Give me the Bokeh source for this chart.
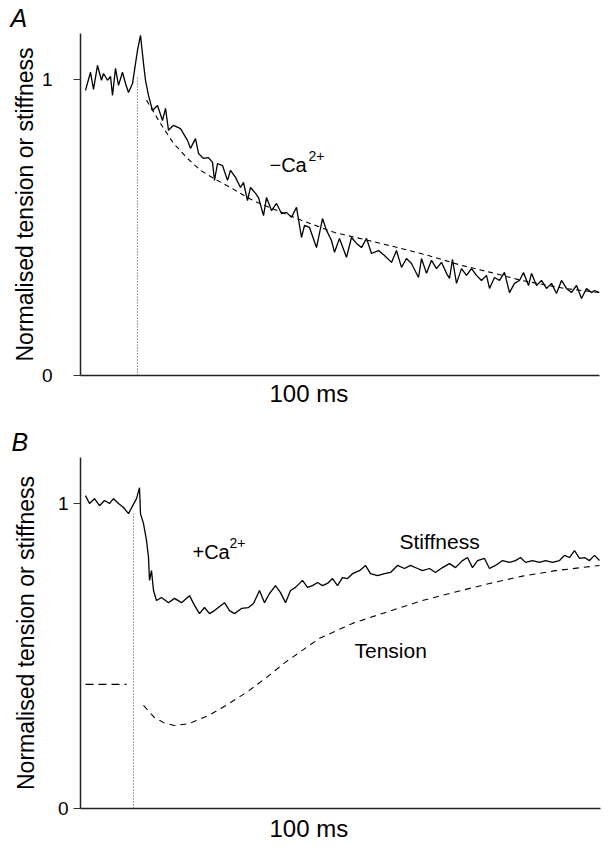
from bokeh.plotting import figure
from bokeh.layouts import column
from bokeh.models import Label, Range1d, FixedTicker, Title
from bokeh.embed import file_html
from bokeh.resources import INLINE

# ---------------- data (time axis in arbitrary units, 100 ms scale bar) -------------
# Panel A: stiffness trace in -Ca2+
a_stiff_x = [5, 10, 13, 17, 21, 23, 27, 30, 32, 35, 38, 42, 45, 48, 52, 57, 60, 63, 65, 68,
             72, 77, 82, 85, 88, 93, 100, 107, 110, 115, 118, 123, 128, 132, 134, 137, 142,
             147, 150, 155, 160, 163, 167, 170, 175,
             178, 183, 186, 191, 196, 201, 206, 211, 216, 221, 224, 229, 236, 242, 246, 251,
             254, 259, 266, 271, 276, 281, 286, 291, 298, 304, 311, 316, 321, 326, 331, 338,
             341, 346, 351, 356, 361, 366, 369, 372, 376, 381, 386, 391, 396, 401, 406, 409,
             414, 419, 424, 429, 434, 439, 443, 448, 451, 456, 461, 466, 471, 476, 481, 486,
             491, 496, 501, 506, 511, 514, 519]
a_stiff_y = [.963, 1.024, .966, 1.047, .997, 1.02, .997, 1.01, .946, 1.037, .98, 1.024, .986,
             .956, .986, 1.098, 1.149, 1.054, .997, .946, .895, .912, .861, .902, .828, .845,
             .834, .794, .767, .80, .75, .733, .736, .72, .659, .716, .709, .659, .693, .669,
             .635, .652, .591, .635, .615,
             .601, .54, .601, .557, .581, .547, .551, .534, .568, .466, .507, .50, .432, .53,
             .49, .456, .416, .463, .399, .466, .446, .432, .463, .412, .422, .405, .382, .422,
             .365, .395, .378, .331,
             .395, .345, .389, .361, .382, .345, .328, .392, .311, .361, .338, .361, .338,
             .321, .338, .294, .331, .321, .348, .28, .311, .321, .348, .304, .345, .304, .321,
             .294, .311, .277, .321, .294, .28, .304, .26, .294, .28, .287, .28]
# Panel A: exponential fit (dashed)
a_fit_x = [66, 80, 93, 107, 120, 133, 150, 167, 177, 221, 254, 288, 321, 348, 381, 408, 441, 484, 519]
a_fit_y = [.93, .851, .784, .733, .693, .666, .635, .601, .584, .524, .483, .456, .429, .405,
           .372, .350, .321, .294, .280]
a_mark_x = [57, 57]
a_mark_y = [0.0, 1.007]

# Panel B: stiffness trace in +Ca2+
b_stiff_x = [5, 9, 14, 19, 24, 29, 33, 38, 43, 48, 56, 59, 60, 63, 66, 68, 69, 71, 73, 76, 81,
             88, 94, 101, 109, 114, 119, 124, 129, 134, 144, 149, 154, 161, 168, 173,
             179, 184, 189, 195, 200, 205, 210, 215, 222, 227, 232, 237, 242, 247, 252, 257,
             262, 267, 272, 279, 285, 290, 297, 304, 310, 317, 324, 330, 337,
             342, 349, 355, 362, 369, 375, 382, 387, 392, 397, 404, 409, 415, 422, 429, 435,
             440, 445, 452, 459, 465, 472, 479, 484, 489, 494, 499, 504, 509, 514, 519]
b_stiff_y = [1.026, 1.0, 1.016, .993, 1.01, 1.0, 1.016, 1.0, .987, .967, 1.016, 1.052, .967,
             .934, .879, .823, .748, .78, .715, .682, .692, .675, .689, .675, .698, .666, .639,
             .659, .639, .649, .675, .649, .639, .656, .659, .672,
             .715, .675, .705, .731, .708, .675, .715, .725, .748, .725, .731, .741, .731, .738,
             .754, .731, .757, .754, .77, .78, .797, .77, .764, .77, .774, .797, .787, .797, .787,
             .78, .787, .774, .79, .803, .79, .813, .823, .79, .813, .82, .787, .797, .813, .807,
             .813, .823, .807, .813, .807, .813, .807, .813, .83, .823, .846, .82, .823, .813,
             .83, .813]
# Panel B: tension (dashed)
b_tens_pre_x = [5, 46]
b_tens_pre_y = [.407, .407]
b_tens_x = [63, 74, 84, 94, 108, 128, 148, 168, 190, 205, 239, 272, 305, 342, 375, 409, 442,
            475, 519]
b_tens_y = [.338, .298, .280, .272, .278, .305, .343, .385, .440, .480, .558, .607, .643,
            .682, .710, .738, .762, .780, .797]
b_mark_x = [53, 53]
b_mark_y = [0.0, 0.967]

y_ticks = [0, 1]
y_title = "Normalised tension or stiffness"
x_title = "100 ms"

FONT = "Liberation Sans"


def make_panel(frame_w, frame_h, y_max, left, top, bottom, tick_standoff, title_standoff,
               letter, letter_offset, caption_standoff):
    p = figure(frame_width=frame_w, frame_height=frame_h,
               x_range=Range1d(0, frame_w), y_range=Range1d(0, y_max),
               output_backend="svg", toolbar_location=None,
               min_border_left=left, min_border_top=top, min_border_bottom=bottom,
               min_border_right=2)
    p.outline_line_color = None
    p.xgrid.visible = False
    p.ygrid.visible = False
    p.background_fill_color = "white"
    p.border_fill_color = "white"
    # panel letter as the (left aligned, italic) title
    p.title.text = letter
    p.title.align = "left"
    p.title.offset = letter_offset
    p.title.standoff = 3
    p.title.text_font = FONT
    p.title.text_font_size = "25px"
    p.title.text_font_style = "italic"
    p.title.text_color = "black"
    ya = p.yaxis[0]
    ya.ticker = FixedTicker(ticks=y_ticks)
    ya.minor_tick_line_color = None
    ya.major_tick_in = 0
    ya.major_tick_out = 7
    ya.axis_line_width = 1.5
    ya.axis_line_color = "#222"
    ya.major_tick_line_color = "#333"
    ya.major_label_text_font = FONT
    ya.major_label_text_font_size = "19px"
    ya.major_label_text_color = "black"
    ya.major_label_standoff = tick_standoff
    ya.axis_label = y_title
    ya.axis_label_text_font = FONT
    ya.axis_label_text_font_size = "23px"
    ya.axis_label_text_font_style = "normal"
    ya.axis_label_text_color = "black"
    ya.axis_label_standoff = title_standoff
    xa = p.xaxis[0]
    xa.ticker = FixedTicker(ticks=[])
    xa.minor_tick_line_color = None
    xa.major_tick_line_color = None
    xa.major_label_text_font_size = "0px"
    xa.axis_line_width = 1.5
    xa.axis_line_color = "#222"
    # scale-bar caption under the axis
    p.add_layout(Title(text=x_title, align="left", offset=189, standoff=caption_standoff,
                       text_font=FONT, text_font_size="24px", text_font_style="normal",
                       text_color="black"), "below")
    return p


def add_label(p, x, y, text, size, style="normal"):
    p.add_layout(Label(x=x, y=y, text=text, text_font=FONT, text_font_size=size,
                       text_font_style=style, text_color="black",
                       text_baseline="alphabetic", text_align="left"))


# ---------------- panel A ----------------
pa = make_panel(519, 342, 1.155, 80, 32, 40, 21, 1, "A", -70, 5)
pa.line(a_mark_x, a_mark_y, line_color="#444", line_width=1, line_dash="1 2")
pa.line(a_fit_x, a_fit_y, line_color="black", line_width=1.1, line_dash="5 4")
pa.line(a_stiff_x, a_stiff_y, line_color="black", line_width=1.3)
add_label(pa, 189, 0.710, "\u2212Ca", "20px")
add_label(pa, 228, 0.740, "2+", "14px")

# ---------------- panel B ----------------
pb = make_panel(520, 351, 1.151, 79, 42, 34, 5, 16, "B", -69, 8)
pb.line(b_mark_x, b_mark_y, line_color="#444", line_width=1, line_dash="1 2")
pb.line(b_tens_pre_x, b_tens_pre_y, line_color="black", line_width=1.4, line_dash="8 5")
pb.line(b_tens_x, b_tens_y, line_color="black", line_width=1.1, line_dash="6 5")
pb.line(b_stiff_x, b_stiff_y, line_color="black", line_width=1.3)
add_label(pb, 112, 0.840, "+Ca", "20px")
add_label(pb, 149, 0.870, "2+", "14px")
add_label(pb, 319, 0.876, "Stiffness", "21px")
add_label(pb, 274, 0.518, "Tension", "21px")

layout = column(pa, pb, spacing=0)
open("out.html", "w").write(file_html(layout, INLINE))
